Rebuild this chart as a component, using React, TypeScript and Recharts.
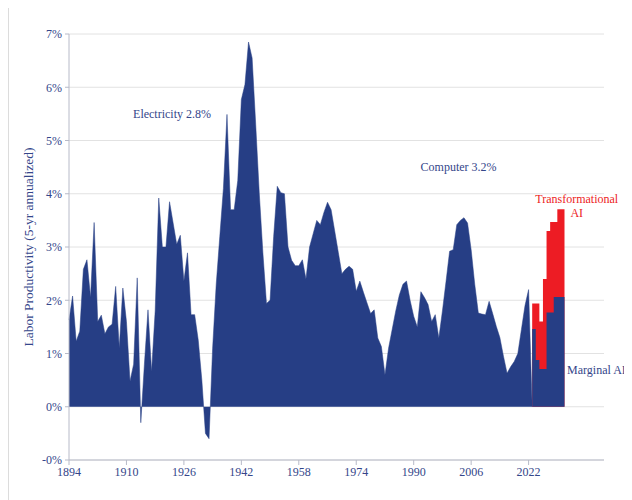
import React from 'react';
import {
  ComposedChart,
  Area,
  XAxis,
  YAxis,
  CartesianGrid,
  ReferenceDot,
} from 'recharts';

// 5-yr annualized labor productivity, one value per year from 1894
const histStartYear = 1894;
const historical = [
  1.63, 2.08, 1.23, 1.42, 2.58, 2.76, 2.05, 3.46, 1.6, 1.72,
  1.37, 1.5, 1.55, 2.26, 1.11, 2.23, 1.6, 0.48, 0.8, 2.42,
  -0.3, 0.8, 1.82, 0.66, 1.8, 3.92, 3.0, 3.0, 3.85, 3.45,
  3.05, 3.22, 2.36, 2.89, 1.73, 1.73, 1.25, 0.5, -0.5, -0.6,
  1.1, 2.3, 3.2, 4.1, 5.49, 3.7, 3.7, 4.25, 5.77, 6.05,
  6.85, 6.55, 5.3, 4.0, 2.89, 1.94, 2.0, 3.2, 4.14, 4.02,
  4.0, 3.0, 2.75, 2.65, 2.65, 2.76, 2.4, 3.0, 3.25, 3.5,
  3.42, 3.65, 3.84, 3.7, 3.3, 2.9, 2.5, 2.58, 2.64, 2.58,
  2.17, 2.36, 2.15, 1.95, 1.75, 1.82, 1.29, 1.13, 0.6, 1.1,
  1.45, 1.8, 2.1, 2.3, 2.36, 2.0, 1.7, 1.5, 2.16, 2.05,
  1.92, 1.6, 1.73, 1.29, 1.8, 2.35, 2.92, 2.95, 3.42, 3.5,
  3.55, 3.45, 2.95, 2.3, 1.76, 1.74, 1.73, 1.98, 1.75, 1.51,
  1.3, 0.95, 0.63, 0.75, 0.85, 1.0, 1.45, 1.9, 2.2, 0,
];

// projection scenarios
const projYears = [2023, 2024, 2025, 2026, 2027, 2028, 2029, 2030, 2031, 2032];
const marginalAI = [1.46, 0.88, 0.71, 0.71, 1.77, 1.77, 2.06, 2.06, 2.06, 2.06];
const transformationalAI = [1.94, 1.94, 1.6, 2.4, 3.3, 3.47, 3.47, 3.71, 3.71, 3.71];

const xTicks = [1894, 1910, 1926, 1942, 1958, 1974, 1990, 2006, 2022];
const yTicks = [-1, 0, 1, 2, 3, 4, 5, 6, 7];

const rows: Record<number, any> = {};
historical.forEach((v, i) => {
  const year = histStartYear + i;
  rows[year] = { year, hist: v };
});
projYears.forEach((year, i) => {
  rows[year] = { ...(rows[year] || { year }), marginal: marginalAI[i], transformational: transformationalAI[i] };
});
const data = Object.values(rows).sort((a: any, b: any) => a.year - b.year);

const NAVY = '#263e85';
const RED = '#ed1c24';
const TEXT = '#34468a';
const FONT = '"Liberation Serif", "DejaVu Serif", serif';

const fmtY = (v: number) => (v === -1 ? '-0%' : `${v}%`);

export default function App() {
  return (
    <div
      style={{
        marginTop: -4,
        width: 624,
        height: 496,
        borderTop: '1px solid #dcdcdc',
        borderLeft: '1px solid #dcdcdc',
        boxSizing: 'border-box',
        fontFamily: FONT,
      }}
    >
      <ComposedChart
        width={623}
        height={490}
        data={data}
        margin={{ top: 29, right: 28, left: 0, bottom: 5 }}
        style={{ overflow: 'visible' }}
      >
        <CartesianGrid vertical={false} stroke="#e2e2e2" />
        <XAxis
          dataKey="year"
          type="number"
          domain={[1894, 2043]}
          ticks={xTicks}
          interval={0}
          height={30}
          tickSize={5}
          stroke="#b7bac8"
          tick={{ fill: TEXT, fontSize: 12, fontFamily: FONT }}
        />
        <YAxis
          type="number"
          domain={[-1, 7]}
          ticks={yTicks}
          width={60}
          tickSize={4}
          tickMargin={3}
          tickFormatter={fmtY}
          stroke="#b7bac8"
          tick={{ fill: TEXT, fontSize: 12, fontFamily: FONT }}
          label={{
            value: 'Labor Productivity (5-yr annualized)',
            angle: -90,
            position: 'insideLeft',
            offset: 19,
            style: { textAnchor: 'middle', fill: TEXT, fontSize: 13.5, fontFamily: FONT },
          }}
        />
        <Area
          dataKey="hist"
          type="linear"
          fill={NAVY}
          fillOpacity={1}
          stroke={NAVY}
          strokeWidth={0.5}
          dot={false}
          activeDot={false}
          isAnimationActive={false}
        />
        <Area
          dataKey="transformational"
          type="stepAfter"
          fill={RED}
          fillOpacity={1}
          stroke="none"
          dot={false}
          activeDot={false}
          isAnimationActive={false}
        />
        <Area
          dataKey="marginal"
          type="stepAfter"
          fill={NAVY}
          fillOpacity={1}
          stroke="none"
          dot={false}
          activeDot={false}
          isAnimationActive={false}
        />
        <ReferenceDot x={1922.7} y={5.51} r={0} stroke="none" fill="none"
          label={{ value: 'Electricity 2.8%', position: 'center', fill: TEXT, fontSize: 12, fontFamily: FONT }} />
        <ReferenceDot x={2002.5} y={4.51} r={0} stroke="none" fill="none"
          label={{ value: 'Computer 3.2%', position: 'center', fill: TEXT, fontSize: 12, fontFamily: FONT }} />
        <ReferenceDot x={2035.4} y={3.9} r={0} stroke="none" fill="none"
          label={{ value: 'Transformational', position: 'center', fill: RED, fontSize: 12, fontFamily: FONT }} />
        <ReferenceDot x={2035.4} y={3.64} r={0} stroke="none" fill="none"
          label={{ value: 'AI', position: 'center', fill: RED, fontSize: 12, fontFamily: FONT }} />
        <ReferenceDot x={2040.9} y={0.7} r={0} stroke="none" fill="none"
          label={{ value: 'Marginal AI', position: 'center', fill: TEXT, fontSize: 12, fontFamily: FONT }} />
      </ComposedChart>
    </div>
  );
}
